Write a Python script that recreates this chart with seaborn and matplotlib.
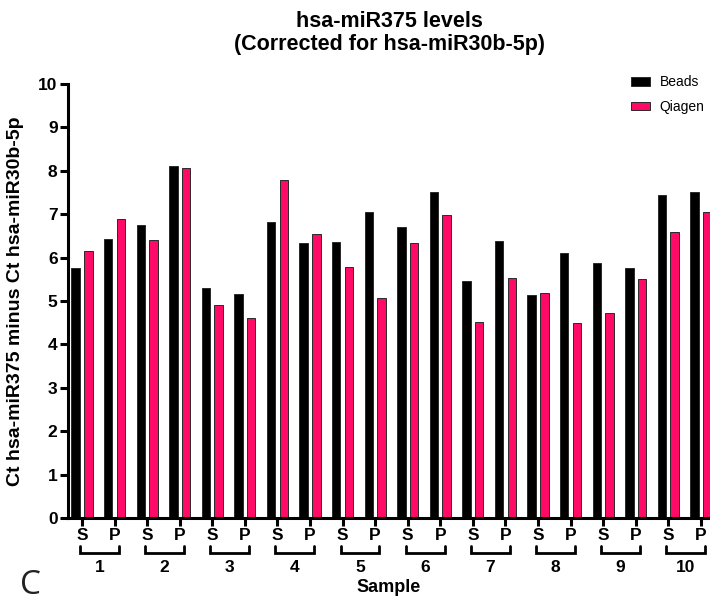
import pandas as pd
import numpy as np
import matplotlib.pyplot as plt
import matplotlib.transforms as mtransforms
import seaborn as sns

# === DATA ===
SAMPLES   = ["1", "2", "3", "4", "5", "6", "7", "8", "9", "10"]
FRACTIONS = ["S", "P"]
METHODS   = ["Beads", "Qiagen"]

BEADS  = [5.75, 6.44, 6.76, 8.12, 5.31, 5.15, 6.83, 6.33, 6.37, 7.06,
          6.70, 7.52, 5.46, 6.38, 5.13, 6.11, 5.87, 5.77, 7.44, 7.52]
QIAGEN = [6.16, 6.90, 6.41, 8.07, 4.91, 4.60, 7.79, 6.54, 5.79, 5.06,
          6.33, 6.98, 4.51, 5.52, 5.18, 4.50, 4.72, 5.50, 6.60, 7.06]

COLORS = {"Beads": "#000000", "Qiagen": "#FF0A67"}

# === LAYOUT (pixels of the 710x601 target) ===
W, H = 710, 601
AX_L, AX_R, AX_B, AX_T = 68, 710, 518, 84


def main():
    sns.set_style("ticks")
    plt.rcParams["font.family"] = ["Liberation Sans", "DejaVu Sans"]
    plt.rcParams.update({"text.color": "black", "axes.labelcolor": "black",
                         "xtick.color": "black", "ytick.color": "black",
                         "axes.edgecolor": "black"})

    pos_labels = [s + f for s in SAMPLES for f in FRACTIONS]
    df = pd.DataFrame({
        "Pos": pos_labels * 2,
        "Ct": BEADS + QIAGEN,
        "Method": ["Beads"] * len(BEADS) + ["Qiagen"] * len(QIAGEN),
    })

    fig = plt.figure(figsize=(W / 100, H / 100), dpi=100)
    ax = fig.add_axes([AX_L / W, 1 - AX_B / H, (AX_R - AX_L) / W, (AX_B - AX_T) / H])

    sns.barplot(
        data=df, x="Pos", y="Ct", hue="Method",
        order=pos_labels, hue_order=METHODS, palette=COLORS, saturation=1,
        width=0.78, gap=0.33, edgecolor="#2a2a2a", linewidth=0.7,
        errorbar=None, ax=ax,
    )

    ax.set_ylim(0, 10)
    ax.set_yticks(range(0, 11))
    ax.set_xlim(-0.43, 19.28)
    ax.set_xticks(range(len(pos_labels)))
    ax.set_xticklabels(FRACTIONS * len(SAMPLES))

    ax.spines[["top", "right"]].set_visible(False)
    for sp in ["left", "bottom"]:
        ax.spines[sp].set_linewidth(2.2)
    ax.tick_params(axis="both", width=2.2, length=6, labelsize=12.5, pad=1.5)
    for lab in ax.get_xticklabels() + ax.get_yticklabels():
        lab.set_fontweight("bold")

    ax.set_xlabel("")
    ax.set_ylabel("Ct hsa-miR375 minus Ct hsa-miR30b-5p", fontsize=14, fontweight="bold")
    ax.yaxis.set_label_coords(-(AX_L - 24) / (AX_R - AX_L), 0.5)

    # brackets grouping S / P under each sample
    trans = mtransforms.blended_transform_factory(ax.transData, ax.transAxes)
    ah = AX_B - AX_T
    y_line = -(553 - AX_B) / ah
    y_up = -(546 - AX_B) / ah
    y_num = -(567 - AX_B) / ah
    for i, s in enumerate(SAMPLES):
        x0, x1 = 2 * i - 0.06, 2 * i + 1 + 0.13
        ax.plot([x0, x0, x1, x1], [y_up, y_line, y_line, y_up], transform=trans,
                color="black", lw=2, clip_on=False, solid_joinstyle="miter")
        ax.text((x0 + x1) / 2, y_num, s, transform=trans, ha="center", va="center",
                fontsize=12.5, fontweight="bold")

    fig.text(((AX_L + AX_R) / 2) / W, 1 - 588 / H, "Sample", ha="center", va="center",
             fontsize=13, fontweight="bold")
    fig.text(31 / W, 1 - 586 / H, "C", ha="center", va="center", fontsize=24,
             family=["Open Sans", "DejaVu Sans"], color="#222222")

    fig.text(((AX_L + AX_R) / 2) / W, 1 - 33 / H,
             "hsa-miR375 levels\n(Corrected for hsa-miR30b-5p)",
             ha="center", va="center", fontsize=15.5, fontweight="bold", linespacing=1.15)

    ax.legend(title=None, frameon=False, fontsize=10, loc="upper left",
              bbox_to_anchor=(618 / W, 1 - 63 / H), bbox_transform=fig.transFigure,
              handlelength=1.4, handleheight=0.6, handletextpad=0.7, labelspacing=0.75)

    fig.savefig("out.png", dpi=100)
    plt.close(fig)


if __name__ == "__main__":
    main()
